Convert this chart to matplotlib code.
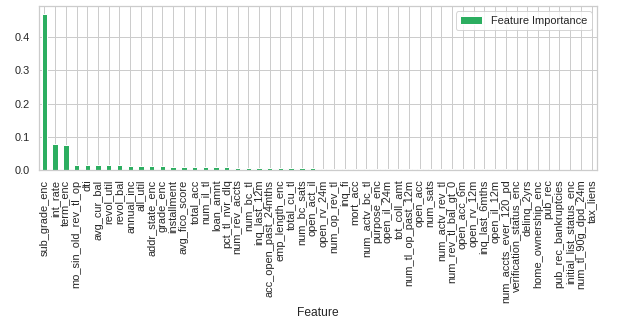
import numpy as np
import pandas as pd
import seaborn as sns
import matplotlib.pyplot as plt

features = ['sub_grade_enc', 'int_rate', 'term_enc', 'mo_sin_old_rev_tl_op', 'dti',
            'avg_cur_bal', 'revol_util', 'revol_bal', 'annual_inc', 'all_util',
            'addr_state_enc', 'grade_enc', 'installment', 'avg_fico_score', 'total_acc',
            'num_il_tl', 'loan_amnt', 'pct_tl_nvr_dlq', 'num_rev_accts', 'num_bc_tl',
            'inq_last_12m', 'acc_open_past_24mths', 'emp_length_enc', 'total_cu_tl',
            'num_bc_sats', 'open_act_il', 'open_rv_24m', 'num_op_rev_tl', 'inq_fi',
            'mort_acc', 'num_actv_bc_tl', 'purpose_enc', 'open_il_24m', 'tot_coll_amt',
            'num_tl_op_past_12m', 'open_acc', 'num_sats', 'num_actv_rev_tl',
            'num_rev_tl_bal_gt_0', 'open_acc_6m', 'open_rv_12m', 'inq_last_6mths',
            'open_il_12m', 'num_accts_ever_120_pd', 'verification_status_enc',
            'delinq_2yrs', 'home_ownership_enc', 'pub_rec', 'pub_rec_bankruptcies',
            'initial_list_status_enc', 'num_tl_90g_dpd_24m', 'tax_liens']

importance = [0.470, 0.079, 0.076, 0.016, 0.016, 0.016, 0.016, 0.016, 0.013, 0.013,
              0.013, 0.013, 0.010, 0.010, 0.010, 0.010, 0.010, 0.008, 0.007, 0.007,
              0.007, 0.006, 0.006, 0.006, 0.006, 0.005, 0.003, 0.003, 0.003, 0.003,
              0.003, 0.003, 0.003, 0.003, 0.002, 0.002, 0.002, 0.002, 0.002, 0.002,
              0.002, 0.002, 0.002, 0.002, 0.0004, 0.0003, 0.0003, 0.0002, 0.0002,
              0.0002, 0.0001, 0.0001]

sns.set(style='whitegrid')
plt.rcParams['font.family'] = ['Liberation Sans', 'DejaVu Sans']

df = pd.DataFrame({'Feature': features, 'Feature Importance': importance})

fig = plt.figure(figsize=(617 / 72, 324 / 72), dpi=72)
ax = fig.add_axes([0.0632, 0.4753, 0.9044, 0.5062])
df.plot(kind='bar', x='Feature', y='Feature Importance', color='#2cae60', ax=ax)
ax.legend(loc='upper right')

fig.savefig('out.png', dpi=72)
plt.close()
